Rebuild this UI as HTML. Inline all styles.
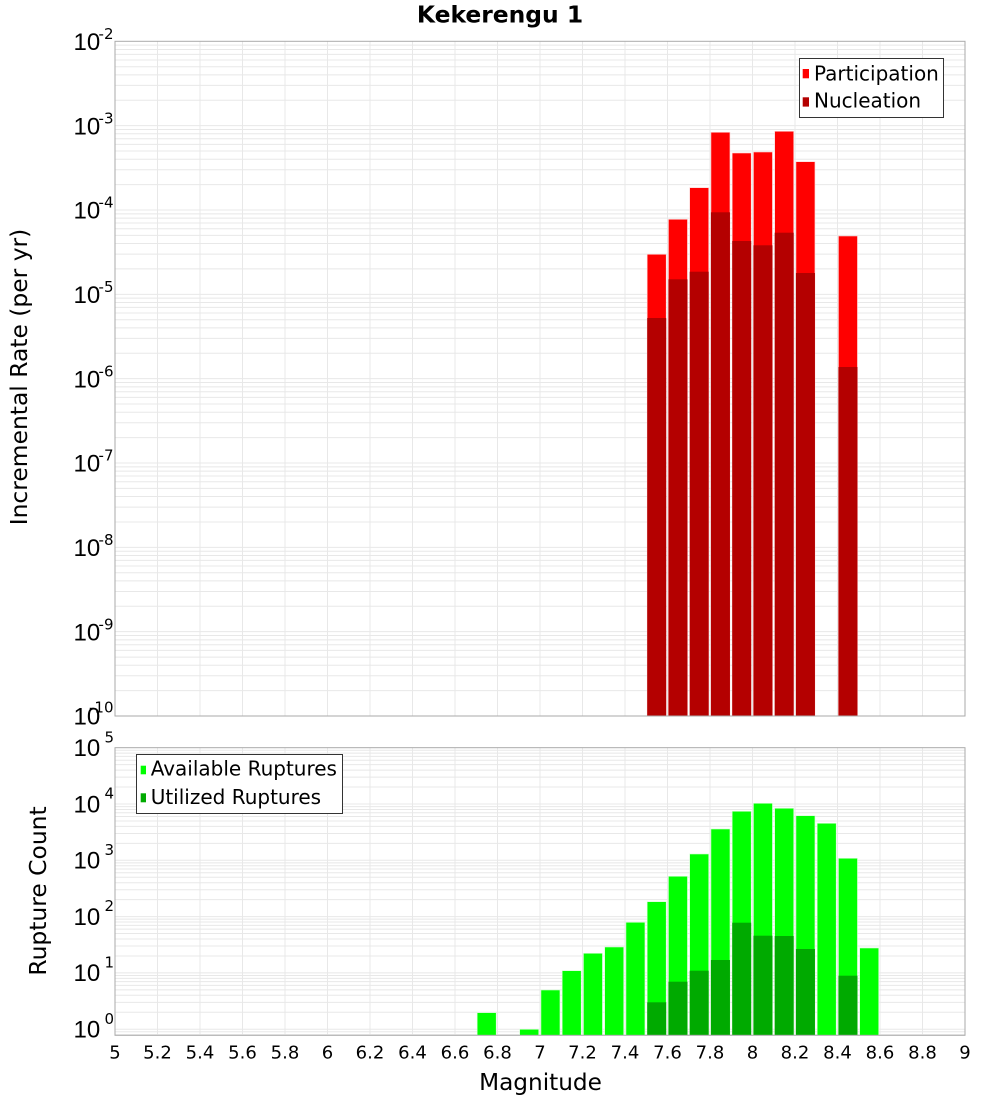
<!DOCTYPE html>
<html><head><meta charset="utf-8"><style>
html,body{margin:0;padding:0;background:#fff;}
svg{display:block;}
text{font-family:"DejaVu Sans","Liberation Sans",sans-serif;fill:#000;}
.yl{font-family:"Liberation Sans","DejaVu Sans",sans-serif;font-size:24px;}
.ys{font-family:"DejaVu Sans","Liberation Sans",sans-serif;font-size:15px;}
.xt{font-size:18px;}
</style></head><body>
<svg width="1000" height="1100" viewBox="0 0 1000 1100" xmlns="http://www.w3.org/2000/svg">
<defs>
<clipPath id="ct"><rect x="115" y="41.3" width="850" height="674.7"/></clipPath>
<clipPath id="cb"><rect x="115" y="747.7" width="850" height="287.6"/></clipPath>
<g id="dt" stroke="#e8e8e8" stroke-width="1">
<line x1="115" x2="965" y1="0" y2="0"/><line x1="115" x2="965" y1="-25.39" y2="-25.39"/><line x1="115" x2="965" y1="-40.24" y2="-40.24"/><line x1="115" x2="965" y1="-50.78" y2="-50.78"/><line x1="115" x2="965" y1="-58.95" y2="-58.95"/><line x1="115" x2="965" y1="-65.63" y2="-65.63"/><line x1="115" x2="965" y1="-71.28" y2="-71.28"/><line x1="115" x2="965" y1="-76.17" y2="-76.17"/><line x1="115" x2="965" y1="-80.48" y2="-80.48"/>
</g>
<g id="db" stroke="#e8e8e8" stroke-width="1">
<line x1="115" x2="965" y1="0" y2="0"/><line x1="115" x2="965" y1="-16.95" y2="-16.95"/><line x1="115" x2="965" y1="-26.86" y2="-26.86"/><line x1="115" x2="965" y1="-33.9" y2="-33.9"/><line x1="115" x2="965" y1="-39.35" y2="-39.35"/><line x1="115" x2="965" y1="-43.81" y2="-43.81"/><line x1="115" x2="965" y1="-47.58" y2="-47.58"/><line x1="115" x2="965" y1="-50.84" y2="-50.84"/><line x1="115" x2="965" y1="-53.72" y2="-53.72"/>
</g>
<g id="vg" stroke="#e8e8e8" stroke-width="1">
<line x1="157.5" x2="157.5" y1="0" y2="1"/><line x1="200" x2="200" y1="0" y2="1"/><line x1="242.5" x2="242.5" y1="0" y2="1"/><line x1="285" x2="285" y1="0" y2="1"/><line x1="327.5" x2="327.5" y1="0" y2="1"/><line x1="370" x2="370" y1="0" y2="1"/><line x1="412.5" x2="412.5" y1="0" y2="1"/><line x1="455" x2="455" y1="0" y2="1"/><line x1="497.5" x2="497.5" y1="0" y2="1"/><line x1="540" x2="540" y1="0" y2="1"/><line x1="582.5" x2="582.5" y1="0" y2="1"/><line x1="625" x2="625" y1="0" y2="1"/><line x1="667.5" x2="667.5" y1="0" y2="1"/><line x1="710" x2="710" y1="0" y2="1"/><line x1="752.5" x2="752.5" y1="0" y2="1"/><line x1="795" x2="795" y1="0" y2="1"/><line x1="837.5" x2="837.5" y1="0" y2="1"/><line x1="880" x2="880" y1="0" y2="1"/><line x1="922.5" x2="922.5" y1="0" y2="1"/>
</g>
</defs>

<!-- title -->
<text x="500" y="22.7" text-anchor="middle" font-weight="bold" font-size="23.4">Kekerengu 1</text>

<!-- TOP PLOT -->
<g clip-path="url(#ct)">
<use href="#vg" transform="translate(0,41.3) scale(1,674.7)" />
<use href="#dt" transform="translate(0,125.64)"/>
<use href="#dt" transform="translate(0,209.98)"/>
<use href="#dt" transform="translate(0,294.32)"/>
<use href="#dt" transform="translate(0,378.66)"/>
<use href="#dt" transform="translate(0,463.0)"/>
<use href="#dt" transform="translate(0,547.34)"/>
<use href="#dt" transform="translate(0,631.68)"/>
<use href="#dt" transform="translate(0,716.02)"/>
<g fill="#ff0000" stroke="#ffd0d0" stroke-width="0.6">
<rect x="647.2" y="254.3" width="19" height="461.7"/>
<rect x="668.45" y="219.3" width="19" height="496.7"/>
<rect x="689.7" y="187.7" width="19" height="528.3"/>
<rect x="710.95" y="132.3" width="19" height="583.7"/>
<rect x="732.2" y="153" width="19" height="563"/>
<rect x="753.45" y="152" width="19" height="564"/>
<rect x="774.7" y="131.3" width="19" height="584.7"/>
<rect x="795.95" y="161.7" width="19" height="554.3"/>
<rect x="838.45" y="236" width="19" height="480"/>
</g>
<g fill="#b40000">
<rect x="647.2" y="318" width="19" height="398"/>
<rect x="668.45" y="279.3" width="19" height="436.7"/>
<rect x="689.7" y="271.7" width="19" height="444.3"/>
<rect x="710.95" y="212.3" width="19" height="503.7"/>
<rect x="732.2" y="241" width="19" height="475"/>
<rect x="753.45" y="245.3" width="19" height="470.7"/>
<rect x="774.7" y="232.7" width="19" height="483.3"/>
<rect x="795.95" y="273" width="19" height="443"/>
<rect x="838.45" y="367" width="19" height="349"/>
</g>
</g>
<rect x="115" y="41.3" width="850" height="674.7" fill="none" stroke="#aaaaaa" stroke-width="1"/>

<!-- top legend -->
<rect x="799.5" y="58.5" width="144" height="59" fill="#fff" stroke="#333" stroke-width="1"/>
<rect x="802.7" y="69" width="6.3" height="9.3" fill="#ff0000"/>
<rect x="802.7" y="97.3" width="6.3" height="9.3" fill="#b40000"/>
<text x="814" y="80.7" font-size="20">Participation</text>
<text x="814" y="107.7" font-size="20">Nucleation</text>

<!-- top y tick labels -->
<g>
<text class="yl" x="73.5" y="50">10</text><text class="ys" x="113.5" y="39" text-anchor="end">-2</text>
<text class="yl" x="73.5" y="134.34">10</text><text class="ys" x="113.5" y="123.34" text-anchor="end">-3</text>
<text class="yl" x="73.5" y="218.68">10</text><text class="ys" x="113.5" y="207.68" text-anchor="end">-4</text>
<text class="yl" x="73.5" y="303.02">10</text><text class="ys" x="113.5" y="292.02" text-anchor="end">-5</text>
<text class="yl" x="73.5" y="387.36">10</text><text class="ys" x="113.5" y="376.36" text-anchor="end">-6</text>
<text class="yl" x="73.5" y="471.7">10</text><text class="ys" x="113.5" y="460.7" text-anchor="end">-7</text>
<text class="yl" x="73.5" y="556.04">10</text><text class="ys" x="113.5" y="545.04" text-anchor="end">-8</text>
<text class="yl" x="73.5" y="640.38">10</text><text class="ys" x="113.5" y="629.38" text-anchor="end">-9</text>
<text class="yl" x="73.5" y="724.72">10</text><text class="ys" x="113.5" y="712.7" text-anchor="end">-10</text>
</g>
<text transform="translate(27,377) rotate(-90)" text-anchor="middle" font-size="23.4">Incremental Rate (per yr)</text>

<!-- BOTTOM PLOT -->
<g clip-path="url(#cb)">
<use href="#vg" transform="translate(0,747.7) scale(1,287.6)" />
<use href="#db" transform="translate(0,804.0)"/>
<use href="#db" transform="translate(0,860.3)"/>
<use href="#db" transform="translate(0,916.6)"/>
<use href="#db" transform="translate(0,972.9)"/>
<use href="#db" transform="translate(0,1029.2)"/>
<use href="#db" transform="translate(0,1085.5)"/>
<g fill="#00ff00" stroke="#d0ffd0" stroke-width="0.6">
<rect x="477.2" y="1012.7" width="19" height="22.6"/>
<rect x="519.7" y="1029.3" width="19" height="6"/>
<rect x="540.95" y="990" width="19" height="45.3"/>
<rect x="562.2" y="970.7" width="19" height="64.6"/>
<rect x="583.45" y="953.3" width="19" height="82"/>
<rect x="604.7" y="947" width="19" height="88.3"/>
<rect x="625.95" y="922.3" width="19" height="113"/>
<rect x="647.2" y="901.7" width="19" height="133.6"/>
<rect x="668.45" y="876.3" width="19" height="159"/>
<rect x="689.7" y="854" width="19" height="181.3"/>
<rect x="710.95" y="829" width="19" height="206.3"/>
<rect x="732.2" y="811.3" width="19" height="224"/>
<rect x="753.45" y="803.3" width="19" height="232"/>
<rect x="774.7" y="808.3" width="19" height="227"/>
<rect x="795.95" y="815.7" width="19" height="219.6"/>
<rect x="817.2" y="823.3" width="19" height="212"/>
<rect x="838.45" y="858.3" width="19" height="177"/>
<rect x="859.7" y="948" width="19" height="87.3"/>
</g>
<g fill="#00aa00">
<rect x="647.2" y="1002.3" width="19" height="33"/>
<rect x="668.45" y="981.7" width="19" height="53.6"/>
<rect x="689.7" y="970.7" width="19" height="64.6"/>
<rect x="710.95" y="960" width="19" height="75.3"/>
<rect x="732.2" y="922.7" width="19" height="112.6"/>
<rect x="753.45" y="935.7" width="19" height="99.6"/>
<rect x="774.7" y="936" width="19" height="99.3"/>
<rect x="795.95" y="949" width="19" height="86.3"/>
<rect x="838.45" y="975.7" width="19" height="59.6"/>
</g>
</g>
<rect x="115" y="747.7" width="850" height="287.6" fill="none" stroke="#aaaaaa" stroke-width="1"/>

<!-- bottom legend -->
<rect x="136.5" y="754.5" width="206" height="59" fill="#fff" stroke="#333" stroke-width="1"/>
<rect x="140.7" y="765.7" width="5.3" height="8.6" fill="#00ff00"/>
<rect x="140.7" y="793.3" width="5.3" height="9" fill="#00aa00"/>
<text x="150.7" y="775.7" font-size="20">Available Ruptures</text>
<text x="150.7" y="804" font-size="20">Utilized Ruptures</text>

<!-- bottom y tick labels -->
<g>
<text class="yl" x="73.5" y="756">10</text><text class="ys" x="114" y="742.3" text-anchor="end">5</text>
<text class="yl" x="73.5" y="812.3">10</text><text class="ys" x="114" y="798.6" text-anchor="end">4</text>
<text class="yl" x="73.5" y="868.6">10</text><text class="ys" x="114" y="854.9" text-anchor="end">3</text>
<text class="yl" x="73.5" y="924.9">10</text><text class="ys" x="114" y="911.2" text-anchor="end">2</text>
<text class="yl" x="73.5" y="981.2">10</text><text class="ys" x="114" y="967.5" text-anchor="end">1</text>
<text class="yl" x="73.5" y="1037.5">10</text><text class="ys" x="114" y="1023.8" text-anchor="end">0</text>
</g>
<text transform="translate(46,891) rotate(-90)" text-anchor="middle" font-size="23.4">Rupture Count</text>

<!-- x tick labels -->
<g class="xt" text-anchor="middle">
<text class="xt" x="115" y="1058.3">5</text>
<text class="xt" x="157.5" y="1058.3">5.2</text>
<text class="xt" x="200" y="1058.3">5.4</text>
<text class="xt" x="242.5" y="1058.3">5.6</text>
<text class="xt" x="285" y="1058.3">5.8</text>
<text class="xt" x="327.5" y="1058.3">6</text>
<text class="xt" x="370" y="1058.3">6.2</text>
<text class="xt" x="412.5" y="1058.3">6.4</text>
<text class="xt" x="455" y="1058.3">6.6</text>
<text class="xt" x="497.5" y="1058.3">6.8</text>
<text class="xt" x="540" y="1058.3">7</text>
<text class="xt" x="582.5" y="1058.3">7.2</text>
<text class="xt" x="625" y="1058.3">7.4</text>
<text class="xt" x="667.5" y="1058.3">7.6</text>
<text class="xt" x="710" y="1058.3">7.8</text>
<text class="xt" x="752.5" y="1058.3">8</text>
<text class="xt" x="795" y="1058.3">8.2</text>
<text class="xt" x="837.5" y="1058.3">8.4</text>
<text class="xt" x="880" y="1058.3">8.6</text>
<text class="xt" x="922.5" y="1058.3">8.8</text>
<text class="xt" x="965" y="1058.3">9</text>
</g>
<text x="540.5" y="1090" text-anchor="middle" font-size="23.2">Magnitude</text>
</svg>
</body></html>
